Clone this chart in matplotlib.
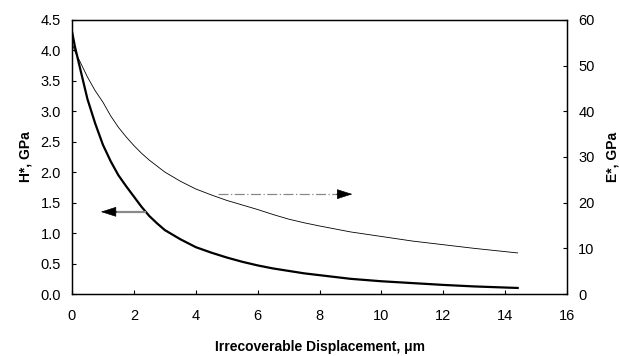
import numpy as np
import matplotlib
matplotlib.use("Agg")
import matplotlib.pyplot as plt

plt.rcParams['font.family'] = ['Liberation Sans', 'DejaVu Sans']

# irrecoverable displacement, um
disp = [0.0, 0.1, 0.25, 0.5, 0.75, 1.0, 1.25, 1.5, 1.75, 2.0, 2.25, 2.5,
        2.75, 3.0, 3.5, 4.0, 4.5, 5.0, 5.5, 6.0, 6.5, 7.0, 7.5, 8.0, 9.0,
        10.0, 11.0, 12.0, 13.0, 14.4]
# hardness H*, GPa
hard = [4.31, 4.05, 3.73, 3.20, 2.80, 2.45, 2.18, 1.95, 1.77, 1.60, 1.43,
        1.28, 1.16, 1.05, 0.90, 0.77, 0.68, 0.60, 0.53, 0.47, 0.42, 0.38,
        0.34, 0.31, 0.25, 0.21, 0.18, 0.15, 0.125, 0.10]
# modulus E*, GPa
mod = [55.0, 53.0, 51.0, 47.5, 44.5, 42.0, 39.0, 36.5, 34.4, 32.5, 30.8,
       29.3, 28.0, 26.7, 24.7, 23.0, 21.7, 20.5, 19.5, 18.5, 17.4, 16.4,
       15.6, 14.9, 13.6, 12.6, 11.6, 10.8, 10.0, 9.0]

fig = plt.figure(figsize=(6.19, 3.56), dpi=100)
ax = fig.add_axes([0.1163, 0.174, 0.8, 0.77])
ax2 = ax.twinx()

ax.plot(disp, hard, color='black', linewidth=1.6, solid_joinstyle='round')
ax2.plot(disp, mod, color='black', linewidth=0.6, solid_joinstyle='round')

ax.set_xlim(0, 16)
ax.set_ylim(0, 4.5)
ax2.set_ylim(0, 60)
ax.set_xticks(np.arange(0, 17, 2))
ax.set_yticks(np.arange(0, 4.51, 0.5))
ax.set_yticklabels([f"{v:.1f}" for v in np.arange(0, 4.51, 0.5)])
ax2.set_yticks(np.arange(0, 61, 10))

ax.tick_params(axis='x', direction='in', length=3, width=0.8, labelsize=10.5, pad=11)
ax.tick_params(axis='y', direction='in', length=3, width=0.8, labelsize=10.5, pad=8)
ax2.tick_params(axis='y', direction='in', length=3, width=0.8, labelsize=10.5, pad=8)

for a in (ax, ax2):
    for s in a.spines.values():
        s.set_linewidth(0.9)

ax.set_xlabel('Irrecoverable Displacement, \u03bcm', fontsize=10, fontweight='bold', labelpad=12)
ax.set_ylabel('H*, GPa', fontsize=10, fontweight='bold', labelpad=6)
ax2.set_ylabel('E*, GPa', fontsize=10, fontweight='bold', labelpad=8)

# arrows pointing each curve to its axis
head = dict(arrowstyle='-|>,head_length=1.0,head_width=0.32', color='black',
            shrinkA=0, shrinkB=0, linewidth=0.5)
ax.plot([1.4, 2.37], [1.35, 1.35], color='#8a8a8a', linewidth=1.6)
ax.annotate('', xy=(0.93, 1.35), xytext=(1.45, 1.35), arrowprops=head)
ax.plot([4.73, 8.6], [1.64, 1.64], color='#8a8a8a', linewidth=0.9,
        linestyle=(0, (8, 2, 1, 2)))
ax.annotate('', xy=(9.06, 1.64), xytext=(8.55, 1.64), arrowprops=head)

fig.savefig('out.png', dpi=100)
